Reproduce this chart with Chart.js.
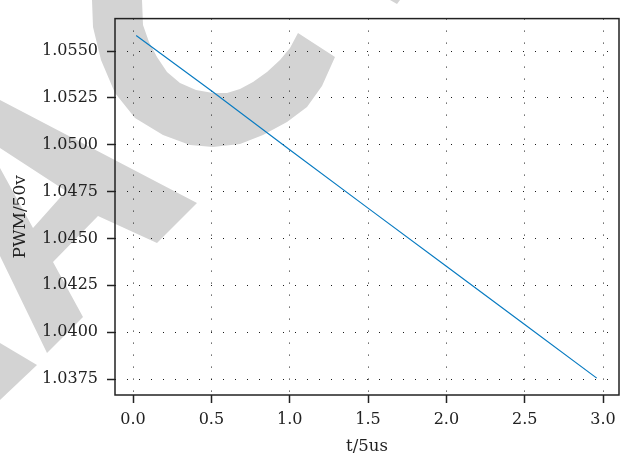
<!DOCTYPE html>
<html>
<head>
<meta charset="utf-8">
<script src="https://cdn.jsdelivr.net/npm/chart.js@4"></script>
<style>
  html, body { margin: 0; padding: 0; background: #fff; }
  #plot { display: block; }
</style>
</head>
<body>
<canvas id="plot" width="624" height="464"></canvas>
<script>
// ===== PWM OUTPUT VS TIME =====

const tSamples = [0.02, 0.5, 1.0, 1.5, 2.0, 2.5, 2.96];
const pwmValues = [1.05583, 1.05288, 1.04973, 1.04662, 1.04352, 1.04041, 1.03755];
const xTicks = [0, 0.5, 1, 1.5, 2, 2.5, 3];
const yTicks = [1.0375, 1.04, 1.0425, 1.045, 1.0475, 1.05, 1.0525, 1.055];

const INK = '#222';
const SHADE = '#d3d3d3';
const LINE_BLUE = '#0a7cc2';
const SERIF = '"DejaVu Serif", serif';

// big grey stamp letters painted behind the plot (canvas px)
const STAMP_SHAPES = [
  // "A" with its counter cut out
  [
    [[0, 100], [197, 203], [157, 243], [98, 216], [53, 262], [83, 317], [47, 353], [0, 256]],
    [[0, 148], [66, 191], [33, 228], [0, 168]]
  ],
  // tail of the letter before it
  [
    [[0, 343], [37, 365], [0, 400]]
  ],
  // "C"
  [
    [[92, 0], [93, 27], [101, 60], [115, 93], [135, 118], [163, 135], [190, 145], [213, 147],
     [240, 144], [263, 135], [287, 122], [307, 107], [322, 86], [335, 57],
     [298, 33], [290, 48], [280, 60], [267, 72], [253, 82], [240, 89], [227, 93], [213, 93],
     [196, 90], [180, 83], [167, 72], [157, 57], [149, 42], [143, 25], [142, 0]]
  ],
  // corner of the next letter
  [
    [[390, 0], [400, 0], [397, 4]]
  ]
];

const stampAndFrame = {
  id: 'stampAndFrame',
  beforeDraw(chart) {
    const ctx = chart.ctx;
    ctx.save();
    ctx.fillStyle = SHADE;
    STAMP_SHAPES.forEach(shape => {
      ctx.beginPath();
      shape.forEach(ring => {
        ring.forEach(([x, y], i) => i ? ctx.lineTo(x, y) : ctx.moveTo(x, y));
        ctx.closePath();
      });
      ctx.fill('evenodd');
    });
    ctx.restore();
  },
  afterDraw(chart) {
    const { ctx, chartArea: a } = chart;
    ctx.save();
    ctx.strokeStyle = INK;
    ctx.lineWidth = 1.5;
    ctx.strokeRect(a.left, a.top, a.right - a.left, a.bottom - a.top);

    // y-axis caption sits a little below the plot centre
    ctx.translate(20.5, (a.top + a.bottom) / 2 + 10);
    ctx.rotate(-Math.PI / 2);
    ctx.fillStyle = INK;
    ctx.font = '17px ' + SERIF;
    ctx.textAlign = 'center';
    ctx.textBaseline = 'middle';
    ctx.fillText('PWM/50v', 0, 0);
    ctx.restore();
  }
};

const fixedTicks = list => scale => { scale.ticks = list.map(v => ({ value: v })); };

const dottedGrid = {
  color: '#1a1a1a',
  lineWidth: 1,
  borderDash: [1, 11],
  tickLength: 8,
  tickColor: INK,
  tickWidth: 1.5,
  tickBorderDash: []
};

Chart.defaults.font.family = SERIF;
Chart.defaults.font.size = 16;
Chart.defaults.color = INK;

new Chart(document.getElementById('plot'), {
  type: 'line',
  data: {
    datasets: [{
      data: tSamples.map((t, i) => ({ x: t, y: pwmValues[i] })),
      borderColor: LINE_BLUE,
      borderWidth: 1.2,
      pointRadius: 0,
      tension: 0,
      fill: false
    }]
  },
  options: {
    responsive: false,
    animation: false,
    events: [],
    layout: { padding: { top: 9, right: 5, left: 0, bottom: 0 } },
    plugins: { legend: { display: false }, tooltip: { enabled: false } },
    scales: {
      x: {
        type: 'linear',
        min: -0.115,
        max: 3.102,
        afterBuildTicks: fixedTicks(xTicks),
        afterFit: s => { s.height = 69; },
        ticks: { callback: v => v.toFixed(1), padding: 7, maxRotation: 0, autoSkip: false },
        grid: dottedGrid,
        border: { display: false, dash: [1, 11] },
        title: { display: true, text: 't/5us', font: { size: 16.5 }, padding: { top: 0, bottom: 7 } }
      },
      y: {
        type: 'linear',
        min: 1.03665,
        max: 1.05673,
        afterBuildTicks: fixedTicks(yTicks),
        afterFit: s => { s.width = 115; },
        ticks: { callback: v => v.toFixed(4), padding: 9, autoSkip: false },
        grid: dottedGrid,
        border: { display: false, dash: [1, 11] }
      }
    }
  },
  plugins: [stampAndFrame]
});
</script>
</body>
</html>
